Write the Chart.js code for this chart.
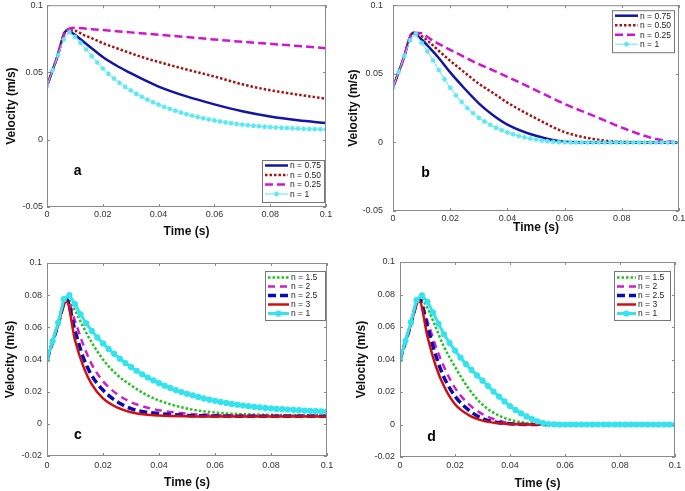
<!DOCTYPE html>
<html>
<head>
<meta charset="utf-8">
<title>Velocity vs time</title>
<script src="https://cdn.jsdelivr.net/npm/chart.js"></script>
<style>
  body { margin: 0; background: #fff; width: 685px; height: 491px; position: relative; overflow: hidden; }
  canvas { position: absolute; }
</style>
</head>
<body>
<canvas id="chartA" width="340" height="245" style="left:0;top:0"></canvas>
<canvas id="chartB" width="345" height="245" style="left:340px;top:0"></canvas>
<canvas id="chartC" width="340" height="246" style="left:0;top:245px"></canvas>
<canvas id="chartD" width="345" height="246" style="left:340px;top:245px"></canvas>
<script>
// time points for the plain lines, and for the cyan line with markers
const tLine = [0, 0.0035, 0.007, 0.01, 0.013, 0.016, 0.02, 0.025, 0.03, 0.035, 0.04, 0.05, 0.06, 0.07, 0.08, 0.09, 0.1];
const tMarker = [0, 0.002, 0.004, 0.006, 0.008, 0.01, 0.012, 0.014, 0.016, 0.018,
  0.02, 0.022, 0.024, 0.026, 0.028, 0.03, 0.032, 0.034, 0.036, 0.038,
  0.04, 0.042, 0.044, 0.046, 0.048, 0.05, 0.052, 0.054, 0.056, 0.058,
  0.06, 0.062, 0.064, 0.066, 0.068, 0.07, 0.072, 0.074, 0.076, 0.078,
  0.08, 0.082, 0.084, 0.086, 0.088, 0.09, 0.092, 0.094, 0.096, 0.098, 0.1];

const xTicks = [0, 0.02, 0.04, 0.06, 0.08, 0.1];
const yTicksTop = [-0.05, 0, 0.05, 0.1];
const yTicksBottom = [-0.02, 0, 0.02, 0.04, 0.06, 0.08, 0.1];

const labelsTop = ['n = 0.75', 'n = 0.50', 'n = 0.25', 'n = 1'];
const labelsBottom = ['n = 1.5', 'n = 2', 'n = 2.5', 'n = 3', 'n = 1'];

// panel a
const aN075 = [0.040, 0.0605, 0.081, 0.078, 0.073, 0.068, 0.0615, 0.055, 0.0495, 0.0443, 0.0395, 0.0322, 0.0263, 0.0212, 0.0173, 0.0145, 0.0124];
const aN050 = [0.040, 0.0605, 0.0812, 0.081, 0.078, 0.0755, 0.0718, 0.068, 0.0643, 0.0608, 0.0578, 0.0522, 0.047, 0.0412, 0.0368, 0.0335, 0.0305];
const aN025 = [0.040, 0.0605, 0.0815, 0.0832, 0.0828, 0.0822, 0.0815, 0.0806, 0.0798, 0.0789, 0.078, 0.0763, 0.0745, 0.0728, 0.0713, 0.0697, 0.068];
const aN1 = [0.04, 0.0515, 0.063, 0.0745, 0.08, 0.0765, 0.072, 0.0672, 0.0622, 0.0575,
  0.053, 0.049, 0.0455, 0.0423, 0.0394, 0.0367, 0.0342, 0.0319, 0.0298, 0.0279,
  0.0261, 0.0244, 0.0229, 0.0215, 0.0202, 0.019, 0.0179, 0.0169, 0.016, 0.0151,
  0.0143, 0.0136, 0.0129, 0.0123, 0.0117, 0.0112, 0.0108, 0.0104, 0.01, 0.0097,
  0.0094, 0.0091, 0.0089, 0.0087, 0.0085, 0.0083, 0.0081, 0.008, 0.0079, 0.0078, 0.0077];

// panel b
const bN075 = [0.040, 0.060, 0.0797, 0.075, 0.0685, 0.0615, 0.051, 0.0393, 0.0285, 0.0198, 0.013, 0.0048, 0.0005, 0, 0, 0, 0];
const bN050 = [0.040, 0.060, 0.080, 0.0775, 0.0725, 0.0668, 0.0595, 0.051, 0.0428, 0.036, 0.029, 0.0175, 0.0075, 0.0025, 0.0004, 0, 0];
const bN025 = [0.040, 0.060, 0.080, 0.0795, 0.0755, 0.0718, 0.0675, 0.0622, 0.057, 0.0525, 0.0478, 0.038, 0.028, 0.0195, 0.0108, 0.0035, -0.0005];
const bN1 = [0.04, 0.0515, 0.063, 0.0745, 0.079, 0.0725, 0.0665, 0.0598, 0.0528, 0.046,
  0.0398, 0.0343, 0.0295, 0.025, 0.0212, 0.018, 0.0152, 0.0128, 0.0107, 0.0089,
  0.0073, 0.0059, 0.0047, 0.0037, 0.0028, 0.002, 0.0013, 0.0008, 0.0004, 0.0002,
  0.0001, 0, 0, 0, 0, 0, 0, 0, 0, 0,
  0, 0, 0, 0, 0, 0, 0, 0, 0, 0, 0];

// panel c
const cN15 = [0.040, 0.059, 0.078, 0.0705, 0.060, 0.0505, 0.040, 0.0305, 0.024, 0.0185, 0.0145, 0.0095, 0.007, 0.006, 0.0056, 0.0055, 0.0055];
const cN2 = [0.040, 0.059, 0.078, 0.064, 0.049, 0.037, 0.0265, 0.0185, 0.0135, 0.0105, 0.0085, 0.0063, 0.0055, 0.0052, 0.005, 0.005, 0.005];
const cN25 = [0.040, 0.059, 0.077, 0.058, 0.041, 0.030, 0.021, 0.0138, 0.0095, 0.0074, 0.0064, 0.0052, 0.0049, 0.0047, 0.0047, 0.0047, 0.0047];
const cN3 = [0.040, 0.059, 0.076, 0.052, 0.0356, 0.0245, 0.0158, 0.0102, 0.0072, 0.0058, 0.0052, 0.0047, 0.0045, 0.0045, 0.0045, 0.0045, 0.0045];
const cN1 = [0.04, 0.0515, 0.063, 0.0775, 0.08, 0.0745, 0.068, 0.0625, 0.0578, 0.0537,
  0.05, 0.0466, 0.0435, 0.0405, 0.0378, 0.0353, 0.033, 0.0308, 0.0288, 0.027,
  0.0253, 0.0237, 0.0223, 0.021, 0.0198, 0.0187, 0.0177, 0.0167, 0.0158, 0.015,
  0.0143, 0.0136, 0.013, 0.0124, 0.0119, 0.0114, 0.011, 0.0106, 0.0102, 0.0099,
  0.0096, 0.0093, 0.0091, 0.0089, 0.0087, 0.0085, 0.0083, 0.0081, 0.0079, 0.0077, 0.0076];

// panel d
const dN15 = [0.040, 0.059, 0.078, 0.0715, 0.0598, 0.0478, 0.0355, 0.022, 0.0122, 0.0063, 0.0029, 0.0003, 0, 0, 0, 0, 0];
const dN2 = [0.040, 0.059, 0.077, 0.0635, 0.048, 0.0355, 0.0225, 0.0125, 0.0064, 0.0029, 0.0008, 0, 0, 0, 0, 0, 0];
const dN25 = [0.040, 0.059, 0.077, 0.060, 0.0425, 0.029, 0.0175, 0.0088, 0.0037, 0.0014, 0.0004, 0, 0, 0, 0, 0, 0];
const dN3 = [0.040, 0.059, 0.076, 0.054, 0.036, 0.0235, 0.0125, 0.0058, 0.0024, 0.0009, 0.0003, 0, 0, 0, 0, 0, 0];
const dN1 = [0.04, 0.0515, 0.063, 0.0765, 0.0795, 0.0755, 0.069, 0.062, 0.0555, 0.0502,
  0.0455, 0.0412, 0.0372, 0.0336, 0.0302, 0.027, 0.0237, 0.0203, 0.0172, 0.0142,
  0.0114, 0.009, 0.0069, 0.005, 0.0034, 0.002, 0.0009, 0.0003, 0.0001, 0,
  0, 0, 0, 0, 0, 0, 0, 0, 0, 0,
  0, 0, 0, 0, 0, 0, 0, 0, 0, 0, 0];

const FONT = '"Liberation Sans", Arial, sans-serif';

function pts(ts, vs) {
  return ts.map((t, i) => ({ x: t, y: vs[i] }));
}

// plain line
function line(label, ys, color, width, dash, order) {
  return {
    label, data: pts(tLine, ys), borderColor: color, borderWidth: width,
    borderDash: dash, pointRadius: 0, cubicInterpolationMode: 'monotone', order
  };
}

// cyan line with markers
function markerLine(label, ys, color, width, style, radius, order) {
  return {
    label, data: pts(tMarker, ys), borderColor: color, backgroundColor: color, borderWidth: width,
    borderDash: [], pointStyle: style, pointRadius: radius, pointBorderWidth: 1.2,
    pointBorderColor: color, pointBackgroundColor: color, order
  };
}

// box, inward ticks, panel letter and the legend inside the axes
const framePlugin = {
  id: 'frame',
  afterDatasetsDraw(chart, args, o) {
    const { ctx, chartArea: ca, scales: { x, y } } = chart;
    ctx.save();
    ctx.strokeStyle = '#8a8a8a';
    ctx.lineWidth = 1;
    ctx.strokeRect(ca.left + 0.5, ca.top + 0.5, ca.right - ca.left - 1, ca.bottom - ca.top - 1);
    ctx.beginPath();
    x.ticks.forEach(t => {
      const px = Math.round(x.getPixelForValue(t.value)) + 0.5;
      ctx.moveTo(px, ca.bottom); ctx.lineTo(px, ca.bottom - 3);
      ctx.moveTo(px, ca.top); ctx.lineTo(px, ca.top + 3);
    });
    y.ticks.forEach(t => {
      const py = Math.round(y.getPixelForValue(t.value)) + 0.5;
      ctx.moveTo(ca.left, py); ctx.lineTo(ca.left + 3, py);
      ctx.moveTo(ca.right, py); ctx.lineTo(ca.right - 3, py);
    });
    ctx.stroke();

    ctx.fillStyle = '#000';
    ctx.font = 'bold 14px ' + FONT;
    ctx.textAlign = 'center';
    ctx.textBaseline = 'middle';
    ctx.fillText(o.letter, x.getPixelForValue(o.letterX), y.getPixelForValue(o.letterY));

    // legend
    const lg = o.legend;
    const left = ca.right - lg.dx - lg.w;
    const top = lg.corner === 'br' ? ca.bottom - lg.dy - lg.h : ca.top + lg.dy;
    ctx.fillStyle = '#fff';
    ctx.fillRect(left, top, lg.w, lg.h);
    ctx.strokeStyle = '#777';
    ctx.lineWidth = 1;
    ctx.strokeRect(left + 0.5, top + 0.5, lg.w, lg.h);
    ctx.font = '8.5px ' + FONT;
    ctx.textAlign = 'left';
    chart.data.datasets.forEach((ds, i) => {
      const ry = top + lg.first + i * lg.row;
      const x0 = left + 3, x1 = left + 3 + lg.sample;
      ctx.strokeStyle = ds.borderColor;
      ctx.lineWidth = ds.borderWidth;
      ctx.setLineDash(ds.borderDash || []);
      ctx.beginPath();
      ctx.moveTo(x0, ry); ctx.lineTo(x1, ry);
      ctx.stroke();
      ctx.setLineDash([]);
      if (ds.pointRadius) {
        ctx.fillStyle = ds.borderColor;
        ctx.lineWidth = ds.pointBorderWidth;
        Chart.helpers.drawPoint(ctx, { pointStyle: ds.pointStyle, rotation: 0, radius: ds.pointRadius, borderWidth: ds.pointBorderWidth }, (x0 + x1) / 2, ry);
      }
      ctx.fillStyle = '#222';
      ctx.fillText(ds.label, x1 + 2, ry + 0.5);
    });
    ctx.restore();
  }
};

function makeChart(id, datasets, yMin, yMax, yTicks, lay) {
  return new Chart(document.getElementById(id), {
    type: 'line',
    data: { datasets },
    plugins: [framePlugin],
    options: {
      responsive: false,
      animation: false,
      layout: { padding: { left: 0, top: lay.top, right: lay.right, bottom: 0 } },
      plugins: {
        legend: { display: false },
        tooltip: { enabled: false },
        frame: lay.frame
      },
      scales: {
        x: {
          type: 'linear', min: 0, max: 0.1,
          afterBuildTicks: s => { s.ticks = xTicks.map(v => ({ value: v })); },
          // fixed box so the plot area lands where the reference has it
          afterFit: s => { s.height = lay.xh; s.paddingLeft = 0; s.paddingRight = 0; },
          grid: { display: false, drawTicks: false },
          border: { display: false },
          ticks: {
            autoSkip: false, maxRotation: 0, padding: lay.xpad, color: '#333',
            font: { family: FONT, size: 9 },
            callback: v => String(+v.toFixed(3))
          },
          title: {
            display: true, text: 'Time (s)', color: '#111',
            font: { family: FONT, size: 12, weight: 'bold' },
            padding: { top: 0, bottom: lay.xtitle }
          }
        },
        y: {
          type: 'linear', min: yMin, max: yMax,
          afterBuildTicks: s => { s.ticks = yTicks.map(v => ({ value: v })); },
          afterFit: s => { s.width = lay.yw; s.paddingTop = 0; s.paddingBottom = 0; },
          grid: { display: false, drawTicks: false },
          border: { display: false },
          ticks: {
            autoSkip: false, padding: lay.ypad, color: '#333',
            font: { family: FONT, size: 9 },
            callback: v => String(+v.toFixed(3))
          },
          title: {
            display: true, text: 'Velocity (m/s)', color: '#111',
            font: { family: FONT, size: 12, weight: 'bold' },
            padding: { top: lay.ytitle, bottom: 0 }
          }
        }
      }
    }
  });
}

const BLUE = '#1414a6', DKRED = '#a31414', MAG = '#d214d2', CYAN_A = '#5ee9f2';
const GREEN = '#1fc41f', MAG2 = '#cc1fcc', BLUE2 = '#0b0bb0', RED = '#cf1010', CYAN_C = '#33e3ee';

function topSets(n075, n050, n025, n1) {
  return [
    line(labelsTop[0], n075, BLUE, 2.5, [], 4),
    line(labelsTop[1], n050, DKRED, 2.5, [2.5, 2], 3),
    line(labelsTop[2], n025, MAG, 2.5, [8, 4], 2),
    markerLine(labelsTop[3], n1, CYAN_A, 1, 'star', 2.5, 1)
  ];
}

function bottomSets(n15, n2, n25, n3, n1) {
  return [
    line(labelsBottom[0], n15, GREEN, 2.5, [2.5, 2], 5),
    line(labelsBottom[1], n2, MAG2, 2.5, [7, 5], 4),
    line(labelsBottom[2], n25, BLUE2, 3.5, [8, 4], 3),
    line(labelsBottom[3], n3, RED, 2.5, [], 2),
    markerLine(labelsBottom[4], n1, CYAN_C, 3, 'circle', 2.5, 1)
  ];
}

makeChart('chartA', topSets(aN075, aN050, aN025, aN1), -0.05, 0.1, yTicksTop, {
  top: 5, right: 14, yw: 47, xh: 38, xpad: 2, ypad: 4, xtitle: 6, ytitle: 4,
  frame: { letter: 'a', letterX: 0.011, letterY: -0.023,
    legend: { corner: 'br', dx: 2, dy: 5, w: 62, h: 42, first: 5.5, row: 9.5, sample: 23 } }
});

makeChart('chartB', topSets(bN075, bN050, bN025, bN1), -0.05, 0.1, yTicksTop, {
  top: 4, right: 6, yw: 53, xh: 34, xpad: 2, ypad: 10, xtitle: 10, ytitle: 6,
  frame: { letter: 'b', letterX: 0.0114, letterY: -0.0227,
    legend: { corner: 'tr', dx: 5, dy: 5, w: 62, h: 42, first: 5.5, row: 9.5, sample: 23 } }
});

makeChart('chartC', bottomSets(cN15, cN2, cN25, cN3, cN1), -0.02, 0.1, yTicksBottom, {
  top: 18, right: 13, yw: 47, xh: 35, xpad: 4, ypad: 5, xtitle: 1, ytitle: 3,
  frame: { letter: 'c', letterX: 0.011, letterY: -0.0073,
    legend: { corner: 'tr', dx: 2, dy: 8, w: 60, h: 49, first: 6.5, row: 9, sample: 21 } }
});

makeChart('chartD', bottomSets(dN15, dN2, dN25, dN3, dN1), -0.02, 0.1, yTicksBottom, {
  top: 17, right: 10, yw: 60, xh: 34, xpad: 3, ypad: 5, xtitle: 0, ytitle: 14,
  frame: { letter: 'd', letterX: 0.0115, letterY: -0.0076,
    legend: { corner: 'tr', dx: 5, dy: 9, w: 56, h: 49, first: 6.5, row: 9, sample: 19 } }
});
</script>
</body>
</html>
